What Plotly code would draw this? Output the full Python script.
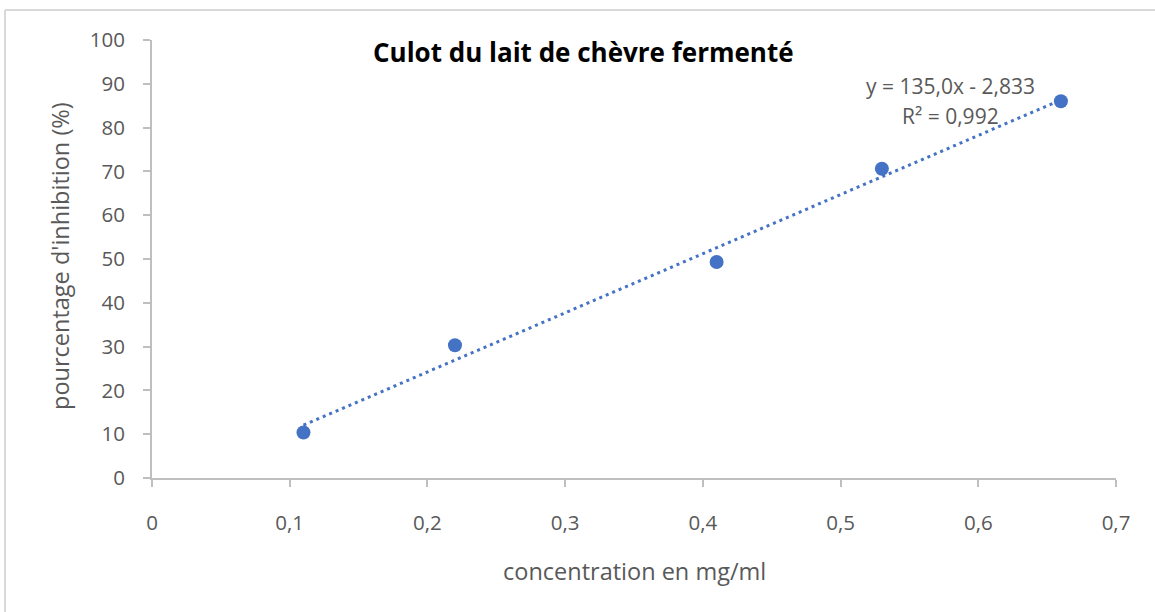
import numpy as np
import plotly.graph_objects as go

# Data
concentration = [0.11, 0.22, 0.41, 0.53, 0.66]
inhibition = [10.4, 30.3, 49.3, 70.6, 86.0]
x_ticks = [0, 0.1, 0.2, 0.3, 0.4, 0.5, 0.6, 0.7]
x_tick_labels = ["0", "0,1", "0,2", "0,3", "0,4", "0,5", "0,6", "0,7"]
y_ticks = [0, 10, 20, 30, 40, 50, 60, 70, 80, 90, 100]
title_text = "Culot du lait de chèvre fermenté"
x_title = "concentration en mg/ml"
y_title = "pourcentage d'inhibition (%)"
equation_lines = ["y = 135,0x - 2,833", "R² = 0,992"]

blue = "#4472C4"
grey_text = "#595959"
axis_grey = "#bfbfbf"
font_family = "'Open Sans', sans-serif"

slope, intercept = np.polyfit(concentration, inhibition, 1)
trend_x = [min(concentration), max(concentration)]
trend_y = [slope * v + intercept for v in trend_x]

fig = go.Figure()
fig.add_trace(go.Scatter(x=trend_x, y=trend_y, mode="lines",
                         line=dict(color=blue, width=3, dash="3px,4px"),
                         hoverinfo="skip", showlegend=False))
fig.add_trace(go.Scatter(x=concentration, y=inhibition, mode="markers",
                         marker=dict(color=blue, size=14),
                         showlegend=False))

W, H = 1155, 612
L, R, T, B = 152, 39, 40, 134
pw, ph = W - L - R, H - T - B

def px_x(p):
    return (p - L) / pw

def px_y(p):
    return 1 - (p - T) / ph

fig.update_layout(
    width=W, height=H,
    margin=dict(l=L, r=R, t=T, b=B),
    paper_bgcolor="white", plot_bgcolor="white",
    font=dict(family=font_family, color=grey_text, size=20),
    xaxis=dict(range=[0, 0.7], tickvals=x_ticks, ticktext=x_tick_labels,
               showgrid=False, zeroline=False, showline=True,
               linecolor=axis_grey, linewidth=2, ticks="outside",
               ticklen=7, tickwidth=2, tickcolor=axis_grey,
               ticklabelstandoff=18,
               tickfont=dict(size=20.5, color=grey_text)),
    yaxis=dict(range=[0, 100], tickvals=y_ticks,
               showgrid=False, zeroline=False, showline=True,
               linecolor=axis_grey, linewidth=2, ticks="outside",
               ticklen=7, tickwidth=2, tickcolor=axis_grey,
               ticklabelstandoff=14,
               tickfont=dict(size=20.5, color=grey_text)),
)

annotations = [
    dict(text="<b>" + title_text + "</b>", x=px_x(583), y=px_y(52),
         xref="paper", yref="paper", showarrow=False,
         font=dict(size=26, color="black", family=font_family),
         xanchor="center", yanchor="middle"),
    dict(text=x_title, x=px_x(634), y=px_y(571), xref="paper", yref="paper",
         showarrow=False, font=dict(size=23.5, color=grey_text),
         xanchor="center", yanchor="middle"),
    dict(text=y_title, x=px_x(60), y=px_y(256), xref="paper", yref="paper",
         showarrow=False, textangle=-90, font=dict(size=23.5, color=grey_text),
         xanchor="center", yanchor="middle"),
    dict(text=equation_lines[0], x=px_x(950), y=px_y(86), xref="paper", yref="paper",
         showarrow=False, font=dict(size=21, color=grey_text),
         xanchor="center", yanchor="middle"),
    dict(text=equation_lines[1], x=px_x(950), y=px_y(116), xref="paper", yref="paper",
         showarrow=False, font=dict(size=21, color=grey_text),
         xanchor="center", yanchor="middle"),
]
fig.update_layout(annotations=annotations)

border = "#d9d9d9"
fig.add_shape(type="line", xref="paper", yref="paper",
              x0=px_x(5), x1=px_x(1160), y0=px_y(10), y1=px_y(10),
              line=dict(color=border, width=2))
fig.add_shape(type="line", xref="paper", yref="paper",
              x0=px_x(5), x1=px_x(5), y0=px_y(10), y1=px_y(620),
              line=dict(color=border, width=2))

fig.write_html("out.html", config={"displayModeBar": False},
               post_script="document.body.style.margin='0';document.body.style.overflow='hidden';")
